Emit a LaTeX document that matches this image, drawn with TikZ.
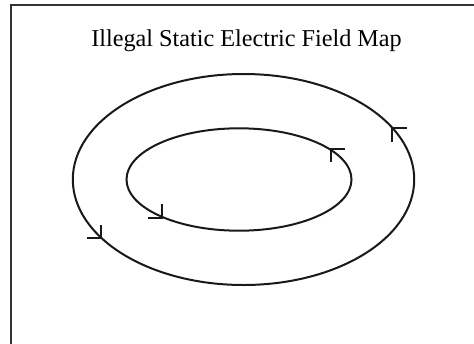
\documentclass[tikz,border=0pt]{standalone}
\usepackage{fontspec}
\setmainfont{Liberation Serif}
\usetikzlibrary{calc}

\tikzset{
 fieldline/.style={line width=1pt,black!90},
 fieldtip/.style={line width=1pt,black!90,line join=miter},
 framestyle/.style={line width=1pt,black!80}
}

\begin{document}
\begin{tikzpicture}[x=0.5pt,y=0.5pt]
\clip (0,0) rectangle (474,343);
\draw[framestyle] (11,-20) -- (11,338) -- (500,338);
\node[font=\fontsize{12.1}{14}\selectfont,anchor=base] (title) at (246.5,296) {Illegal Static Electric Field Map};
\coordinate (outerc) at (243.5,163.5);
\coordinate (innerc) at (239,163.5);
\draw[fieldline] (outerc) ellipse[x radius=170.7,y radius=105.5];
\draw[fieldline] (innerc) ellipse[x radius=112.5,y radius=51.2];
% tips sit on the loops, barbs drawn level and upright
\coordinate (outerur) at (392,214.7);
\coordinate (outerll) at (100.5,104.7);
\coordinate (innerur) at (331,194);
\coordinate (innerll) at (161.5,124.7);
\draw[fieldtip] ($(outerur)+(15,0)$) -- (outerur) -- ($(outerur)+(0,-14)$);
\draw[fieldtip] ($(innerur)+(14,0)$) -- (innerur) -- ($(innerur)+(0,-13)$);
\draw[fieldtip] ($(outerll)+(-14,0)$) -- (outerll) -- ($(outerll)+(0,13)$);
\draw[fieldtip] ($(innerll)+(-13.5,0)$) -- (innerll) -- ($(innerll)+(0,14)$);
\end{tikzpicture}
\end{document}
